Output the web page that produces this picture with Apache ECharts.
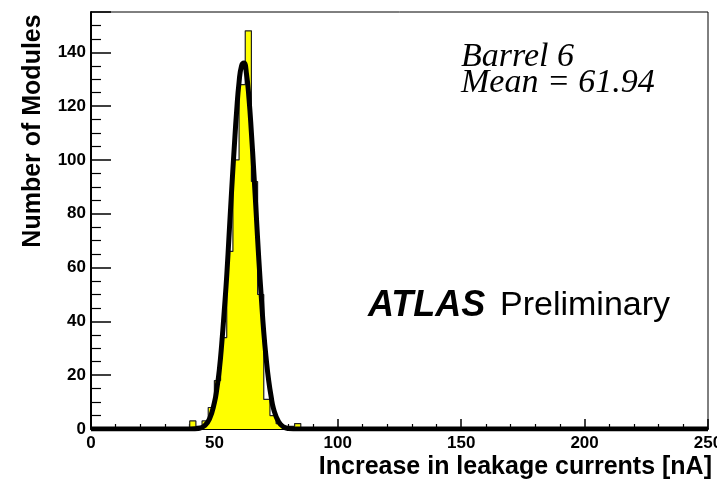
<!DOCTYPE html>
<html>
<head>
<meta charset="utf-8">
<title>Barrel 6 leakage currents</title>
<script src="https://cdn.jsdelivr.net/npm/echarts@6/dist/echarts.min.js"></script>
<style>
  html, body { margin: 0; padding: 0; background: #fff; }
  #chart { width: 717px; height: 482px; }
</style>
</head>
<body>
<div id="chart"></div>
<script>
// histogram bins (width 2.5 nA), low edges and counts
const binWidth = 2.5
const binLow = [40, 42.5, 45, 47.5, 50, 52.5, 55, 57.5, 60, 62.5, 65, 67.5, 70, 72.5, 75, 77.5, 80, 82.5]
const counts = [3, 1, 3, 8, 18, 34, 66, 100, 128, 148, 92, 50, 11, 5, 2, 1, 1, 2]

// gaussian fit curve
const fitX = [0, 40, 44, 46, 48, 50, 51, 52, 53, 54, 55, 56, 57, 58, 59, 60, 61, 62, 63, 64, 65, 66, 67, 68, 69, 70, 71, 72, 73, 74, 76, 78, 80, 84, 250]
const fitY = [0, 0, 0.3, 1.2, 3.7, 9.8, 15, 22, 32, 44, 57, 73, 89, 104, 118, 129, 135, 136, 132, 123, 110, 95, 79, 63, 49, 36, 26, 18, 12, 7.4, 2.7, 0.8, 0.2, 0, 0]

const xTicks = [0, 50, 100, 150, 200, 250]
const yTicks = [0, 20, 40, 60, 80, 100, 120, 140]

const histData = [[0, 0]]
binLow.forEach((x, i) => histData.push([x, counts[i]]))
histData.push([binLow[binLow.length - 1] + binWidth, 0])
histData.push([250, 0])

const fitData = fitX.map((x, i) => [x, fitY[i]])

const sans = '"Liberation Sans", Arial, Helvetica, sans-serif'
const serif = '"Liberation Serif", "Times New Roman", serif'

const chart = echarts.init(document.getElementById('chart'))
chart.setOption({
  animation: false,
  grid: {
    left: 91,
    right: 9,
    top: 12,
    bottom: 53,
    containLabel: false,
    outerBoundsMode: 'none',
    show: true,
    borderColor: '#000',
    borderWidth: 1
  },
  xAxis: {
    type: 'value',
    min: xTicks[0],
    max: xTicks[xTicks.length - 1],
    interval: 50,
    axisLine: { lineStyle: { color: '#000', width: 2 } },
    axisTick: { inside: true, length: 10, lineStyle: { color: '#000', width: 1.5 } },
    minorTick: { show: true, splitNumber: 5, length: 5, lineStyle: { color: '#000', width: 1.2 } },
    splitLine: { show: false },
    axisLabel: {
      color: '#000',
      fontFamily: sans,
      fontWeight: 'bold',
      fontSize: 17,
      margin: 6
    }
  },
  yAxis: {
    type: 'value',
    min: yTicks[0],
    max: 155,
    interval: 20,
    axisLine: { show: true, lineStyle: { color: '#000', width: 2 } },
    axisTick: { show: true, inside: true, length: 20, lineStyle: { color: '#000', width: 1.5 } },
    minorTick: { show: true, splitNumber: 4, length: 10, lineStyle: { color: '#000', width: 1.2 } },
    splitLine: { show: false },
    axisLabel: {
      color: '#000',
      fontFamily: sans,
      fontWeight: 'bold',
      fontSize: 17,
      margin: 5,
      formatter: v => (yTicks.indexOf(v) >= 0 ? String(v) : '')
    }
  },
  series: [
    {
      name: 'histogram',
      type: 'line',
      step: 'end',
      data: histData,
      symbol: 'none',
      lineStyle: { color: '#222', width: 1.2 },
      areaStyle: { color: '#ffff00', opacity: 1 },
      z: 2
    },
    {
      name: 'fit',
      type: 'line',
      smooth: true,
      data: fitData,
      symbol: 'none',
      lineStyle: { color: '#000', width: 5 },
      z: 3
    }
  ],
  graphic: [
    {
      type: 'text',
      x: 33, y: 131,
      rotation: Math.PI / 2,
      style: {
        text: 'Number of Modules',
        font: 'bold 25px ' + sans,
        fill: '#000',
        align: 'center',
        verticalAlign: 'middle'
      }
    },
    {
      type: 'text',
      x: 712, y: 467,
      style: {
        text: 'Increase in leakage currents [nA]',
        font: 'bold 25px ' + sans,
        fill: '#000',
        align: 'right',
        verticalAlign: 'middle'
      }
    },
    {
      type: 'text',
      x: 461, y: 57,
      style: { text: 'Barrel 6', font: 'italic 34px ' + serif, fill: '#000', verticalAlign: 'middle' }
    },
    {
      type: 'text',
      x: 461, y: 83,
      style: { text: 'Mean = 61.94', font: 'italic 34px ' + serif, fill: '#000', verticalAlign: 'middle' }
    },
    {
      type: 'text',
      x: 368, y: 306,
      style: { text: 'ATLAS', font: 'italic bold 36px ' + sans, fill: '#000', verticalAlign: 'middle' }
    },
    {
      type: 'text',
      x: 500, y: 306,
      style: { text: 'Preliminary', font: '34px ' + sans, fill: '#000', verticalAlign: 'middle' }
    }
  ]
})
</script>
</body>
</html>
